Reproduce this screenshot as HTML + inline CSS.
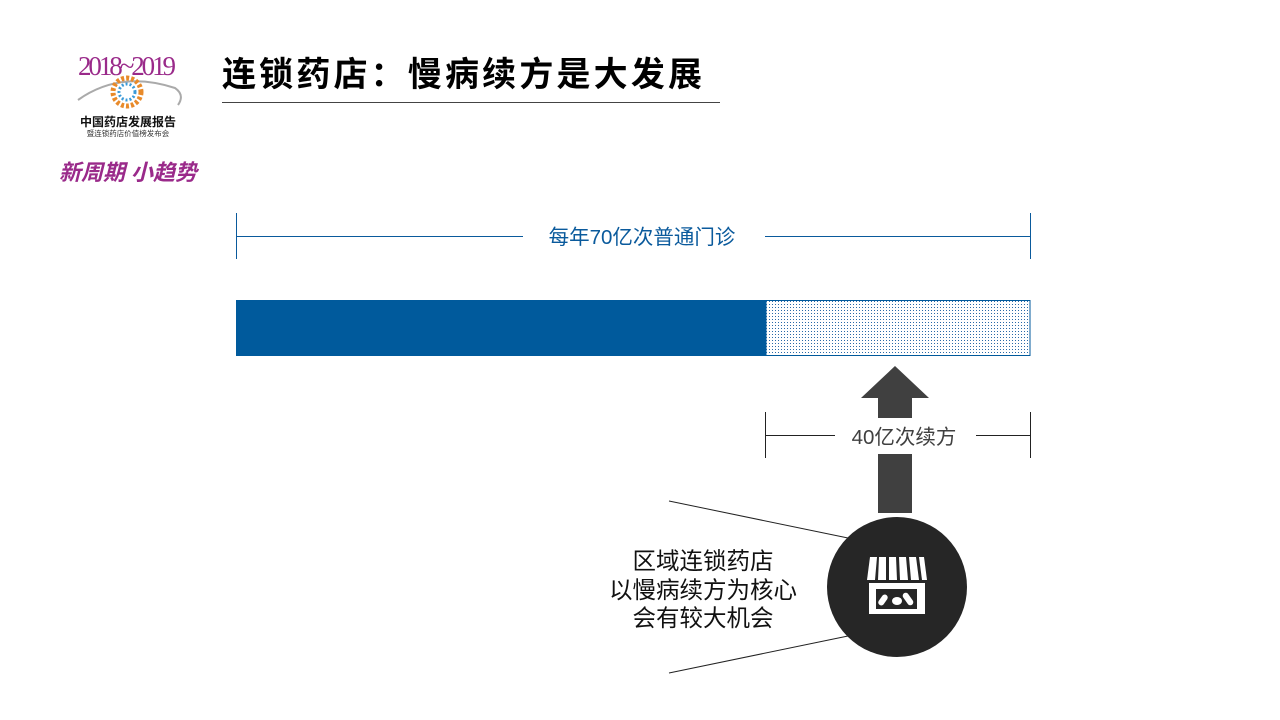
<!DOCTYPE html>
<html><head><meta charset="utf-8"><style>
html,body{margin:0;padding:0;background:#fff;width:1280px;height:720px;overflow:hidden}
svg{display:block}
text{font-family:"Liberation Sans","Noto Sans CJK SC",sans-serif}
</style></head><body>
<svg width="1280" height="720" viewBox="0 0 1280 720" xmlns="http://www.w3.org/2000/svg">
<defs>
<pattern id="dots" width="3" height="3" patternUnits="userSpaceOnUse">
<rect width="3" height="3" fill="#fff"/><rect x="1" y="1" width="1" height="1" fill="#2a6aa8"/>
</pattern>
</defs>
<!-- logo -->
<text x="127" y="75" font-size="27" fill="#9a2a8a" text-anchor="middle" style="font-family:'Liberation Serif',serif" textLength="98">2018~2019</text>
<path d="M78 100 Q120 70 175 88 Q185 95 178 105" stroke="#aaa" stroke-width="2" fill="none"/>
<circle cx="127" cy="92" r="14" fill="none" stroke="#e88a2a" stroke-width="5" stroke-dasharray="3 2"/>
<circle cx="127" cy="92" r="8" fill="none" stroke="#3a9ad8" stroke-width="3" stroke-dasharray="2 2"/>
<text x="128" y="126" font-size="12" font-weight="bold" fill="#111" text-anchor="middle">中国药店发展报告</text>
<text x="128" y="136" font-size="7.5" fill="#333" text-anchor="middle">暨连锁药店价值榜发布会</text>
<text x="128" y="180" font-size="22" font-weight="bold" fill="#9a2a8a" text-anchor="middle" font-style="italic">新周期 小趋势</text>
<!-- title -->
<text x="222" y="86" font-size="34" font-weight="bold" fill="#000" textLength="480">连锁药店：慢病续方是大发展</text>
<line x1="222" y1="102.5" x2="720" y2="102.5" stroke="#444" stroke-width="1"/>
<!-- top dimension -->
<line x1="236.5" y1="213" x2="236.5" y2="259" stroke="#0a5a9c"/>
<line x1="1030.5" y1="213" x2="1030.5" y2="259" stroke="#0a5a9c"/>
<line x1="236" y1="236.5" x2="523" y2="236.5" stroke="#0a5a9c"/>
<line x1="765" y1="236.5" x2="1030" y2="236.5" stroke="#0a5a9c"/>
<text x="642" y="244" font-size="20.5" fill="#0a5a9c" text-anchor="middle">每年70亿次普通门诊</text>
<!-- bar -->
<rect x="236" y="300" width="530" height="56" fill="#005a9c"/>
<rect x="766" y="300.5" width="264" height="55" fill="url(#dots)" stroke="#005a9c" stroke-width="1"/>
<!-- arrow -->
<polygon points="895,366 929,398 912,398 912,418 878,418 878,398 861,398" fill="#404040"/>
<rect x="878" y="454" width="34" height="59" fill="#404040"/>
<!-- lower dimension -->
<line x1="765.5" y1="412" x2="765.5" y2="458" stroke="#222"/>
<line x1="1030.5" y1="412" x2="1030.5" y2="458" stroke="#222"/>
<line x1="765" y1="435.5" x2="835" y2="435.5" stroke="#222"/>
<line x1="976" y1="435.5" x2="1030" y2="435.5" stroke="#222"/>
<text x="904" y="444" font-size="20.5" fill="#404040" text-anchor="middle">40亿次续方</text>
<!-- callout lines -->
<line x1="669" y1="501" x2="848" y2="538" stroke="#222"/>
<line x1="669" y1="673" x2="848" y2="636" stroke="#222"/>
<circle cx="897" cy="587" r="70" fill="#262626"/>
<!-- store icon -->
<g fill="#fff">
<path d="M867 580 L870 557 L877 557 L875 580 Z"/>
<path d="M878 580 L879 557 L886 557 L886 580 Z"/>
<path d="M889 580 L889 557 L896 557 L897 580 Z"/>
<path d="M900 580 L899 557 L906 557 L908 580 Z"/>
<path d="M911 580 L909 557 L916 557 L919 580 Z"/>
<path d="M922 580 L919 557 L924 557 L927 580 Z"/>
<rect x="869" y="583" width="56" height="31"/>
</g>
<rect x="876" y="589" width="41" height="20" fill="#262626"/>
<g fill="#fff">
<rect x="880" y="594" width="6" height="12" rx="3" transform="rotate(35 883 600)"/>
<ellipse cx="897" cy="601" rx="5" ry="4"/>
<rect x="905" y="592" width="6" height="14" rx="3" transform="rotate(-35 908 599)"/>
</g>
<!-- callout text -->
<g font-size="23.5" fill="#111" text-anchor="middle">
<text x="703" y="569">区域连锁药店</text>
<text x="703" y="598">以慢病续方为核心</text>
<text x="703" y="626">会有较大机会</text>
</g>
</svg>
</body></html>
